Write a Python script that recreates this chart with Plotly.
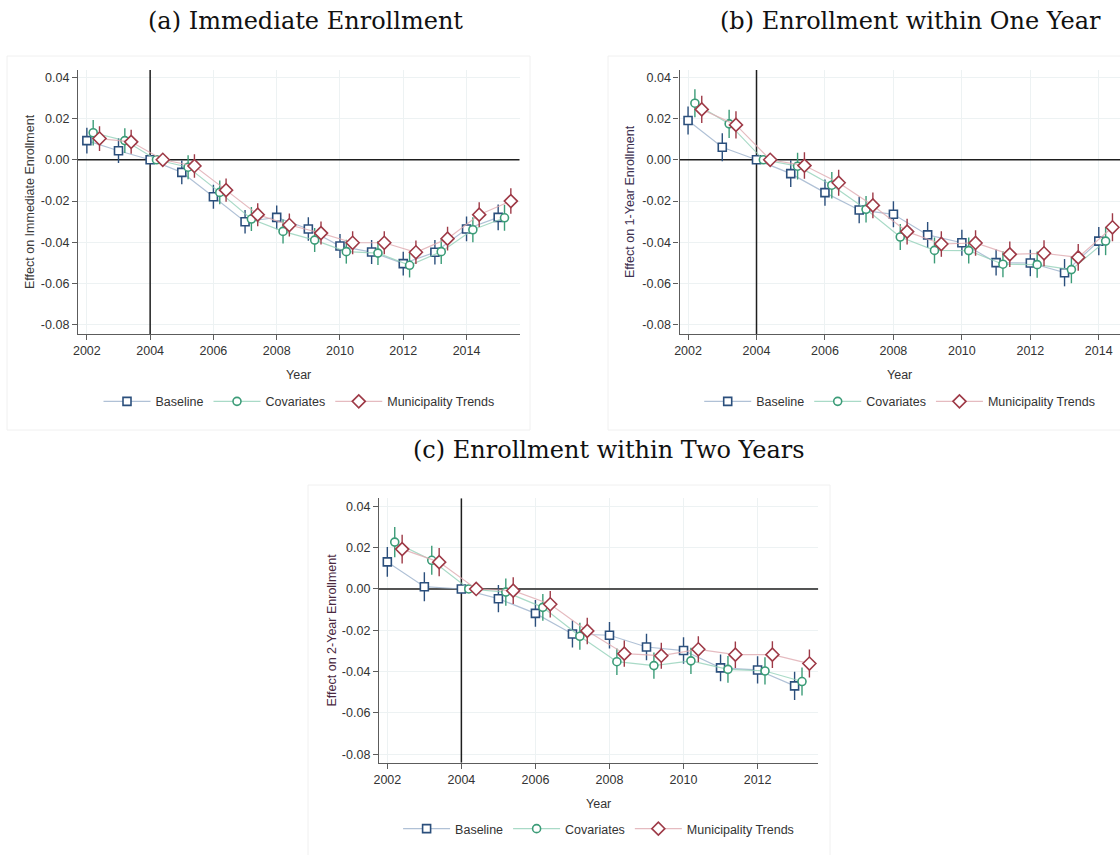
import plotly.graph_objects as go

# Event-study estimates (reference year 2004 normalised to zero)
years_a = [2002, 2003, 2004, 2005, 2006, 2007, 2008, 2009, 2010, 2011, 2012, 2013, 2014, 2015]
years_b = [2002, 2003, 2004, 2005, 2006, 2007, 2008, 2009, 2010, 2011, 2012, 2013, 2014]
years_c = [2002, 2003, 2004, 2005, 2006, 2007, 2008, 2009, 2010, 2011, 2012, 2013]

# (a) Immediate enrollment
base_a = [0.0093, 0.0044, 0.0, -0.0061, -0.0179, -0.0300, -0.0279, -0.0335, -0.0418, -0.0447, -0.0503, -0.0448, -0.0335, -0.0279]
cov_a = [0.0131, 0.0093, 0.0, -0.0036, -0.0158, -0.0287, -0.0347, -0.0389, -0.0445, -0.0452, -0.0511, -0.0445, -0.0339, -0.0281]
trend_a = [0.0103, 0.0087, 0.0, -0.0030, -0.0147, -0.0266, -0.0316, -0.0355, -0.0402, -0.0402, -0.0448, -0.0382, -0.0266, -0.0200]
base_a_ci = [0.0062, 0.0060, 0.0, 0.0058, 0.0058, 0.0057, 0.0058, 0.0057, 0.0058, 0.0058, 0.0058, 0.0059, 0.0060, 0.0062]
cov_a_ci = [0.0062, 0.0060, 0.0, 0.0058, 0.0058, 0.0058, 0.0058, 0.0058, 0.0058, 0.0058, 0.0059, 0.0060, 0.0061, 0.0063]
trend_a_ci = [0.0060, 0.0058, 0.0, 0.0057, 0.0056, 0.0056, 0.0056, 0.0056, 0.0056, 0.0056, 0.0057, 0.0058, 0.0060, 0.0062]

# (b) Enrollment within one year
base_b = [0.0190, 0.0061, 0.0, -0.0067, -0.0159, -0.0243, -0.0264, -0.0364, -0.0402, -0.0498, -0.0500, -0.0547, -0.0394]
cov_b = [0.0274, 0.0174, 0.0, -0.0031, -0.0123, -0.0240, -0.0374, -0.0439, -0.0440, -0.0506, -0.0508, -0.0532, -0.0394]
trend_b = [0.0244, 0.0169, 0.0, -0.0028, -0.0111, -0.0221, -0.0348, -0.0408, -0.0403, -0.0458, -0.0453, -0.0473, -0.0327]
base_b_ci = [0.0068, 0.0068, 0.0, 0.0065, 0.0064, 0.0064, 0.0063, 0.0063, 0.0063, 0.0063, 0.0064, 0.0066, 0.0068]
cov_b_ci = [0.0068, 0.0068, 0.0, 0.0065, 0.0064, 0.0064, 0.0063, 0.0063, 0.0063, 0.0063, 0.0064, 0.0066, 0.0068]
trend_b_ci = [0.0066, 0.0066, 0.0, 0.0064, 0.0063, 0.0062, 0.0062, 0.0062, 0.0062, 0.0062, 0.0063, 0.0065, 0.0068]

# (c) Enrollment within two years
base_c = [0.0131, 0.0011, 0.0, -0.0047, -0.0118, -0.0218, -0.0224, -0.0281, -0.0298, -0.0382, -0.0392, -0.0469]
cov_c = [0.0227, 0.0139, 0.0, -0.0015, -0.0089, -0.0229, -0.0352, -0.0371, -0.0348, -0.0389, -0.0397, -0.0448]
trend_c = [0.0193, 0.0130, 0.0, -0.0008, -0.0074, -0.0203, -0.0313, -0.0323, -0.0292, -0.0318, -0.0318, -0.0361]
base_c_ci = [0.0072, 0.0070, 0.0, 0.0066, 0.0065, 0.0065, 0.0064, 0.0064, 0.0064, 0.0065, 0.0066, 0.0068]
cov_c_ci = [0.0073, 0.0070, 0.0, 0.0066, 0.0065, 0.0065, 0.0064, 0.0064, 0.0064, 0.0065, 0.0066, 0.0068]
trend_c_ci = [0.0070, 0.0068, 0.0, 0.0065, 0.0064, 0.0064, 0.0063, 0.0063, 0.0063, 0.0064, 0.0065, 0.0068]

series_names = ["Baseline", "Covariates", "Municipality Trends"]
panel_titles = ["(a) Immediate Enrollment", "(b) Enrollment within One Year", "(c) Enrollment within Two Years"]
y_titles = ["Effect on Immediate Enrollment", "Effect on 1-Year Enrollment", "Effect on 2-Year Enrollment"]
x_title = "Year"
ytick_vals = [0.04, 0.02, 0.0, -0.02, -0.04, -0.06, -0.08]
ytick_text = ["0.04", "0.02", "0.00", "-0.02", "-0.04", "-0.06", "-0.08"]
xtick_vals = [2002, 2004, 2006, 2008, 2010, 2012, 2014]
event_year = 2004

W, H = 1120, 855

# series styling: marker colour, faded connector colour, symbol, size, x offset
styles = [
    dict(color="#2b4f7c", line="rgba(150,172,200,0.75)", symbol="square", size=8, dx=0.0),
    dict(color="#3c9c78", line="rgba(140,205,180,0.75)", symbol="circle", size=8, dx=0.2),
    dict(color="#9e3a47", line="rgba(222,170,176,0.8)", symbol="diamond", size=10, dx=0.4),
]

# pixel layout of the three plot areas: (left, right, top, bottom)
areas = [(78, 519.7, 70, 334), (679.5, 1120, 70, 334), (379, 818.3, 498.3, 762.7)]
xranges = [[2001.72, 2015.68], [2001.75, 2014.62], [2001.775, 2013.64]]
yranges = [[-0.0844, 0.0435], [-0.0844, 0.0435], [-0.0841, 0.0439]]

panels = [
    (years_a, [base_a, cov_a, trend_a], [base_a_ci, cov_a_ci, trend_a_ci]),
    (years_b, [base_b, cov_b, trend_b], [base_b_ci, cov_b_ci, trend_b_ci]),
    (years_c, [base_c, cov_c, trend_c], [base_c_ci, cov_c_ci, trend_c_ci]),
]


def px_x(v):
    return v / W


def px_y(v):
    return 1 - v / H


fig = go.Figure()
legend_ids = ["legend", "legend2", "legend3"]

for p, (yrs, vals, cis) in enumerate(panels):
    sfx = "" if p == 0 else str(p + 1)
    xr, yr = xranges[p], yranges[p]
    # reference lines: zero effect and the event year
    for rx, ry in (([xr[0], xr[1]], [0, 0]), ([event_year, event_year], [yr[0], yr[1]])):
        fig.add_trace(go.Scatter(
            x=rx, y=ry, mode="lines", line=dict(color="#1e1e1e", width=1.5),
            xaxis="x" + sfx, yaxis="y" + sfx, showlegend=False, hoverinfo="skip",
        ))
    for s, (v, ci) in enumerate(zip(vals, cis)):
        st = styles[s]
        fig.add_trace(go.Scatter(
            x=[y + st["dx"] for y in yrs], y=v,
            mode="lines+markers",
            name=series_names[s],
            line=dict(color=st["line"], width=1.2),
            marker=dict(symbol=st["symbol"], size=st["size"], color="white",
                        line=dict(color=st["color"], width=1.6)),
            error_y=dict(type="data", array=ci, visible=True, color=st["color"],
                         thickness=1.4, width=0),
            xaxis="x" + sfx, yaxis="y" + sfx,
            legend=legend_ids[p],
            hoverinfo="x+y",
        ))

layout = dict(
    width=W, height=H,
    margin=dict(l=0, r=0, t=0, b=0, autoexpand=False),
    paper_bgcolor="white", plot_bgcolor="white",
    font=dict(family="Liberation Sans, Arial, sans-serif", size=12, color="#333333"),
    showlegend=True,
)

axis_common = dict(
    showline=True, linecolor="#5c5c5c", linewidth=1.3,
    ticks="outside", ticklen=5, tickwidth=1.3, tickcolor="#5c5c5c",
    showgrid=True, gridcolor="#edf2f3", gridwidth=1,
    zeroline=False, fixedrange=True, automargin=False,
    tickfont=dict(family="Liberation Sans, Arial, sans-serif", size=12.5, color="#333333"),
)

shapes = []
annotations = []
legend_centers = [(299, 401.7), (899.7, 401.7), (598.6, 829)]
title_pos = [(305, 21), (910, 21), (609, 450)]
ytitle_x = [30, 630, 331]
ytitle_colors = ["#3a3a3a", "#3d3050", "#4a2840"]
boxes = [(7, 530, 56, 430), (608, 1125, 56, 430), (308, 830, 485, 860)]

for p in range(3):
    sfx = "" if p == 0 else str(p + 1)
    l, r, t, b = areas[p]
    layout["xaxis" + sfx] = dict(
        axis_common, domain=[px_x(l), min(1.0, px_x(r))], range=xranges[p],
        anchor="y" + sfx, tickvals=xtick_vals, ticktext=[str(v) for v in xtick_vals],
    )
    layout["yaxis" + sfx] = dict(
        axis_common, domain=[px_y(b), px_y(t)], range=yranges[p],
        anchor="x" + sfx, tickvals=ytick_vals, ticktext=ytick_text,
    )
    # faint graph-region frame
    bl, br, bt, bb = boxes[p]
    shapes.append(dict(type="rect", xref="paper", yref="paper",
                       x0=px_x(bl), x1=px_x(br), y0=px_y(bb), y1=px_y(bt),
                       line=dict(color="#f0f0f0", width=1), fillcolor="rgba(0,0,0,0)",
                       layer="below"))
    # panel title
    tx, ty = title_pos[p]
    annotations.append(dict(text=panel_titles[p], x=px_x(tx), y=px_y(ty), xref="paper", yref="paper",
                            xanchor="center", yanchor="middle", showarrow=False,
                            font=dict(family="DejaVu Serif, serif", size=24, color="#111111")))
    # axis titles
    annotations.append(dict(text=y_titles[p], x=px_x(ytitle_x[p]), y=px_y((t + b) / 2),
                            xref="paper", yref="paper", xanchor="center", yanchor="middle",
                            textangle=-90, showarrow=False,
                            font=dict(size=12.5, color=ytitle_colors[p])))
    annotations.append(dict(text=x_title, x=px_x((l + min(r, W)) / 2), y=px_y(b + 41),
                            xref="paper", yref="paper", xanchor="center", yanchor="middle",
                            showarrow=False, font=dict(size=12.5, color="#333333")))
    # legend beneath each panel
    lx, ly = legend_centers[p]
    layout[legend_ids[p]] = dict(
        orientation="h", x=px_x(lx), y=px_y(ly), xanchor="center", yanchor="middle",
        xref="paper", yref="paper", bgcolor="rgba(0,0,0,0)", itemwidth=47,
        font=dict(size=12.5, color="#333333"), tracegroupgap=0,
    )

layout["shapes"] = shapes
layout["annotations"] = annotations
fig.update_layout(**layout)

fig.write_html("out.html")
